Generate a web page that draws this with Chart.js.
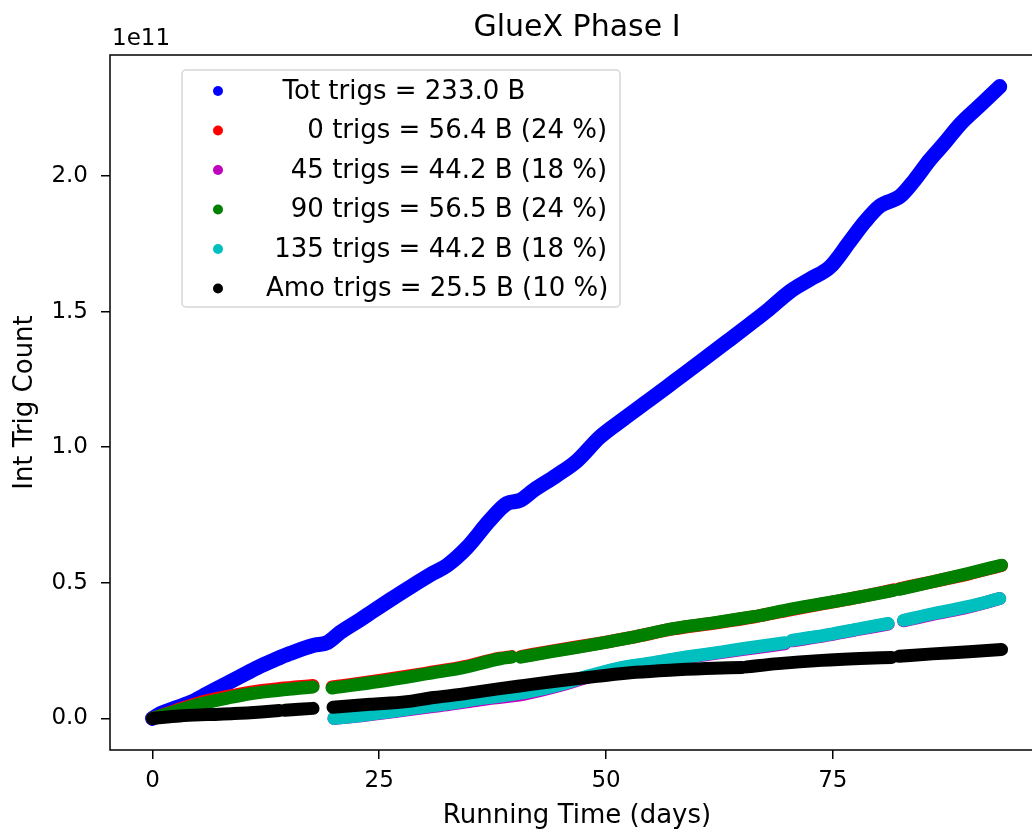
<!DOCTYPE html>
<html>
<head>
<meta charset="utf-8">
<script src="https://cdn.jsdelivr.net/npm/chart.js@4"></script>
<style>
  html, body { margin: 0; padding: 0; background: #fff; overflow: hidden; }
  canvas { display: block; }
</style>
</head>
<body>
<canvas id="chart" width="1050" height="829"></canvas>
<script>
(() => {
  'use strict';

  // values in billions of triggers (B), x in running days; null = gap in the run
  const totDays = [0, 0.9, 2.5, 4.2, 6, 7.8, 9.7, 11.6, 13.4, 15.2, 17.7, 19.3, 20.7, 22.9, 24.5, 26.2, 28.5, 30.9, 32.5, 34.7, 37.2, 39.1, 40.5, 42, 44.5, 46.8, 49.3, 52, 54.8, 57.6, 60.4, 63.2, 65.9, 68, 70.3, 72.5, 74.7, 76.9, 78.5, 80.2, 82.4, 84, 85.7, 87.4, 89, 91.2, 93.4];
  const totVals = [0, 1.8, 3.8, 5.9, 9.0, 12.2, 15.5, 18.8, 21.5, 24, 26.9, 28, 31.7, 36.4, 40, 43.7, 48.6, 53.5, 56.5, 63.1, 73.1, 79.3, 80.4, 84.1, 89.5, 95, 103.7, 110.6, 117.5, 124.5, 131.5, 138.6, 145.5, 151, 157.5, 162, 166.5, 176, 183, 189, 192.5, 198.5, 206, 212.5, 219, 226, 233];

  const d0Days = [0, 2.5, 5.3, 8, 10.8, 14, 17.7, 18.7, 19.8, 25, 30.9, 34, 38.3, 39.6, 40.1, 40.6, 44, 49.2, 53, 57.4, 62, 66.4, 70, 73.8, 78, 81.7, 82, 82.3, 86, 90, 93.6];
  const d0Vals = [0, 2.9, 5.9, 7.9, 9.7, 11, 12.1, null, 11.6, 14, 17.1, 18.8, 22.2, 22.8, null, 22.8, 24.8, 27.7, 30, 33, 35.2, 37.5, 39.8, 42.2, 44.8, 47.4, null, 47.8, 50.4, 53.3, 56.4];

  const d45Days = [20, 23, 27.3, 30, 32.8, 36, 41, 45, 48, 51.2, 55, 58, 61.5, 65, 69.7, 70.1, 70.5, 75, 78, 81.1, 82, 82.8, 86, 90, 93.4];
  const d45Vals = [0, 1.0, 2.8, 4.0, 5.2, 6.8, 9.0, 12.2, 15.3, 18.2, 20.3, 22.0, 23.7, 25.4, 27.5, null, 28.6, 31.0, 32.9, 34.8, null, 36.0, 38.4, 41.1, 44.2];

  const d90Days = [0, 2.5, 5.3, 8, 10.8, 14, 17.7, 18.7, 19.8, 25, 30.9, 34, 38.3, 39.6, 40.1, 40.6, 44, 49.2, 53, 57.4, 62, 66.4, 66.6, 66.8, 70, 73.8, 78, 81.7, 82, 82.3, 86, 90, 93.6];
  const d90Vals = [0, 2.6, 5.4, 7.3, 9.1, 10.4, 11.6, null, 11.2, 13.6, 16.8, 18.5, 22, 22.6, null, 22.6, 24.6, 27.6, 30, 33.1, 35.3, 37.6, null, 37.8, 40, 42.3, 44.8, 47.2, null, 47.6, 50.4, 53.5, 56.5];

  const d135Days = [20, 23, 27.3, 30, 32.8, 36, 41, 45, 48, 51.2, 55, 58, 61.5, 65, 69.7, 70.1, 70.5, 75, 78, 81.1, 82, 82.8, 86, 90, 93.4];
  const d135Vals = [0, 1.1, 3.0, 4.3, 5.5, 7.2, 9.5, 12.5, 15.6, 18.4, 20.5, 22.2, 23.9, 25.7, 27.9, null, 28.8, 31.2, 33.1, 35.0, null, 36.2, 38.6, 41.3, 44.2];

  const amoDays = [0, 3, 6, 9, 12, 14, 14.3, 14.6, 17.7, 18.8, 19.9, 24, 28, 31, 33, 36, 38.3, 41, 45.1, 49, 53.3, 57, 61, 65, 65.2, 65.5, 69, 73.8, 78, 81.5, 81.9, 82.3, 86, 90, 93.6];
  const amoVals = [0, 0.9, 1.4, 1.8, 2.4, 2.9, null, 3.0, 3.7, null, 4.1, 5.2, 6.2, 7.7, 8.5, 9.9, 11, 12.2, 14, 15.5, 17, 17.8, 18.4, 18.8, null, 19.0, 20.2, 21.4, 22.1, 22.5, null, 22.9, 23.8, 24.6, 25.4];

  const labels = [
    '  Tot trigs = 233.0 B',
    '     0 trigs = 56.4 B (24 %)',
    '   45 trigs = 44.2 B (18 %)',
    '   90 trigs = 56.5 B (24 %)',
    ' 135 trigs = 44.2 B (18 %)',
    'Amo trigs = 25.5 B (10 %)',
  ];
  const colors = ['#0000ff', '#ff0000', '#bf00bf', '#008000', '#00bfbf', '#000000'];
  const widths = [15, 13, 13, 13, 13, 13];

  const xTicks = [0, 25, 50, 75];
  const yTicks = [0, 50, 100, 150, 200];

  const FONT = "'DejaVu Sans', sans-serif";

  const pts = (xs, ys) => xs.map((x, i) => ({ x: x, y: ys[i] }));
  const series = [
    pts(totDays, totVals),
    pts(d0Days, d0Vals),
    pts(d45Days, d45Vals),
    pts(d90Days, d90Vals),
    pts(d135Days, d135Vals),
    pts(amoDays, amoVals),
  ];

  // frame, title, offset text and the in-axes legend
  const decor = {
    id: 'decor',
    afterDatasetsDraw(chart) {
      const ctx = chart.ctx, a = chart.chartArea;
      ctx.save();

      ctx.strokeStyle = '#000';
      ctx.lineWidth = 1.5;
      ctx.strokeRect(a.left, a.top, a.right - a.left, a.bottom - a.top);

      ctx.fillStyle = '#000';
      ctx.font = '30px ' + FONT;
      ctx.textAlign = 'center';
      ctx.textBaseline = 'middle';
      ctx.fillText('GlueX Phase I', (a.left + a.right) / 2, 28);

      ctx.font = '23px ' + FONT;
      ctx.textAlign = 'left';
      ctx.textBaseline = 'alphabetic';
      ctx.fillText('1e11', a.left + 2, a.top - 10);

      // legend box
      const bx = a.left + 72, by = a.top + 15, bw = 438, bh = 237;
      ctx.beginPath();
      ctx.roundRect(bx, by, bw, bh, 4);
      ctx.fillStyle = 'rgba(255,255,255,0.8)';
      ctx.fill();
      ctx.strokeStyle = '#d6d6d6';
      ctx.lineWidth = 1.5;
      ctx.stroke();

      ctx.font = '26px ' + FONT;
      ctx.textBaseline = 'middle';
      chart.data.datasets.forEach((ds, i) => {
        const y = by + 21 + i * 39.5;
        ctx.beginPath();
        ctx.arc(bx + 36, y, 5, 0, Math.PI * 2);
        ctx.fillStyle = ds.borderColor;
        ctx.fill();
        ctx.fillStyle = '#000';
        ctx.fillText(ds.label, bx + 84, y + 1);
      });

      ctx.restore();
    },
  };

  new Chart(document.getElementById('chart'), {
    type: 'line',
    data: {
      datasets: series.map((data, i) => ({
        label: labels[i],
        data: data,
        borderColor: colors[i],
        backgroundColor: colors[i],
        borderWidth: widths[i],
        borderCapStyle: 'round',
        borderJoinStyle: 'round',
        pointRadius: 0,
        cubicInterpolationMode: 'monotone',
        spanGaps: false,
        fill: false,
        order: 5 - i,
      })),
    },
    options: {
      responsive: false,
      animation: false,
      devicePixelRatio: 1,
      layout: { padding: { top: 55, right: 6, left: 0, bottom: 0 } },
      plugins: {
        legend: { display: false },
        title: { display: false },
        tooltip: { enabled: false },
      },
      scales: {
        x: {
          type: 'linear',
          min: -4.68,
          max: 98.28,
          afterBuildTicks: (s) => { s.ticks = xTicks.map((v) => ({ value: v })); },
          afterFit: (s) => { s.height = 79; },
          grid: { drawOnChartArea: false, drawTicks: true, tickLength: 9, color: '#000', lineWidth: 1.5 },
          border: { display: false },
          ticks: { color: '#000', font: { family: FONT, size: 23 }, padding: 8, maxRotation: 0 },
          title: {
            display: true,
            text: 'Running Time (days)',
            color: '#000',
            font: { family: FONT, size: 26, lineHeight: 1 },
            padding: { top: 0, bottom: 0 },
          },
        },
        y: {
          type: 'linear',
          min: -11.65,
          max: 244.65,
          afterBuildTicks: (s) => { s.ticks = yTicks.map((v) => ({ value: v })); },
          afterFit: (s) => { s.width = 110; },
          grid: { drawOnChartArea: false, drawTicks: true, tickLength: 9, color: '#000', lineWidth: 1.5 },
          border: { display: false },
          ticks: {
            color: '#000',
            font: { family: FONT, size: 23 },
            padding: 13,
            callback: (v) => (v / 100).toFixed(1),
          },
          title: {
            display: true,
            text: 'Int Trig Count',
            color: '#000',
            font: { family: FONT, size: 26, lineHeight: 1 },
            padding: { top: 12, bottom: 0 },
          },
        },
      },
    },
    plugins: [decor],
  });
})();
</script>
</body>
</html>
